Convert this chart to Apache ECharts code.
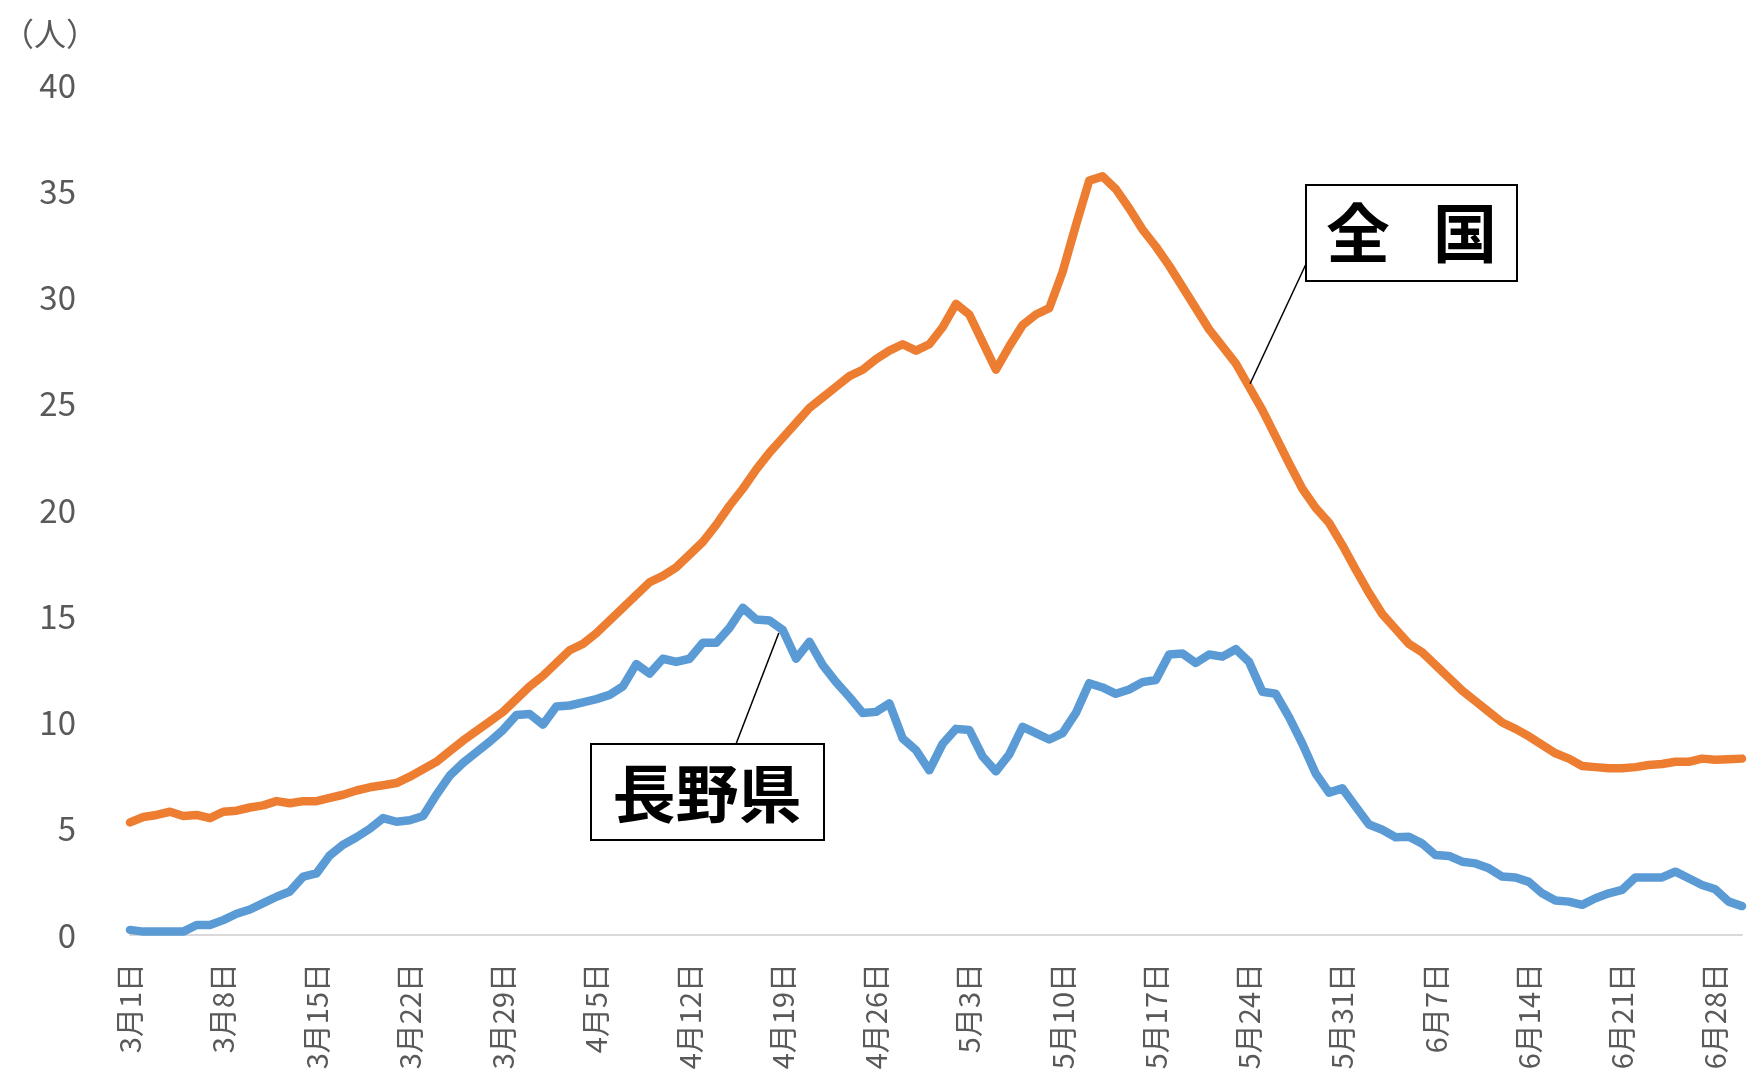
<!DOCTYPE html>
<html>
<head>
<meta charset="utf-8">
<script src="https://cdn.jsdelivr.net/npm/echarts@6/dist/echarts.min.js"></script>
<style>
html,body{margin:0;padding:0;background:#fff;}
#chart{width:1749px;height:1081px;}
</style>
</head>
<body>
<div id="chart"></div>
<script>
// Month / day-count info used to build the daily category labels (3/1 .. 6/30)
const months = [3, 4, 5, 6];
const monthDays = [31, 30, 31, 30];
const categories = [];
months.forEach((m, i) => { for (let d = 1; d <= monthDays[i]; d++) categories.push(m + '月' + d + '日'); });

// 全国 (national)
const national = [
  5.3, 5.55, 5.65, 5.8, 5.6, 5.65, 5.5, 5.8, 5.85, 6.0,
  6.1, 6.3, 6.2, 6.3, 6.3, 6.45, 6.6, 6.8, 6.95, 7.05,
  7.15, 7.45, 7.8, 8.15, 8.65, 9.15, 9.6, 10.05, 10.5, 11.1,
  11.7, 12.2, 12.8, 13.4, 13.7, 14.2, 14.8, 15.4, 16.0, 16.6,
  16.9, 17.3, 17.9, 18.5, 19.3, 20.2, 21.0, 21.9, 22.7, 23.4,
  24.1, 24.8, 25.3, 25.8, 26.3, 26.6, 27.1, 27.5, 27.8, 27.5,
  27.8, 28.6, 29.7, 29.2, 27.9, 26.6, 27.7, 28.7, 29.2, 29.5,
  31.2, 33.4, 35.5, 35.7, 35.1, 34.2, 33.2, 32.4, 31.5, 30.5,
  29.5, 28.5, 27.7, 26.9, 25.8, 24.7, 23.45, 22.2, 21.0, 20.1,
  19.4, 18.35, 17.2, 16.1, 15.1, 14.4, 13.7, 13.3, 12.7, 12.1,
  11.5, 11.0, 10.5, 10.0, 9.7, 9.35, 8.95, 8.55, 8.3, 7.95,
  7.9, 7.85, 7.85, 7.9, 8.0, 8.05, 8.15, 8.15, 8.3, 8.25,
  8.27, 8.3
];

// 長野県 (Nagano)
const nagano = [
  0.24, 0.16, 0.16, 0.16, 0.16, 0.47, 0.47, 0.7, 1.0, 1.2,
  1.5, 1.8, 2.05, 2.75, 2.9, 3.75, 4.25, 4.6, 5.0, 5.5,
  5.33, 5.4, 5.6, 6.6, 7.5, 8.1, 8.6, 9.1, 9.65, 10.35,
  10.4, 9.9, 10.75, 10.8, 10.95, 11.1, 11.3, 11.7, 12.75, 12.3,
  13.0, 12.85, 13.0, 13.75, 13.75, 14.45, 15.4, 14.85, 14.8, 14.35,
  13.0, 13.8, 12.7, 11.9, 11.2, 10.45, 10.5, 10.9, 9.25, 8.7,
  7.75, 9.0, 9.7, 9.65, 8.4, 7.7, 8.5, 9.8, 9.5, 9.2,
  9.5, 10.45, 11.85, 11.65, 11.35, 11.55, 11.9, 12.0, 13.2, 13.25,
  12.8, 13.2, 13.1, 13.45, 12.85, 11.45, 11.35, 10.25, 9.0, 7.6,
  6.7, 6.9, 6.05, 5.2, 4.95, 4.6, 4.62, 4.3, 3.76, 3.72,
  3.45, 3.37, 3.14, 2.75, 2.71, 2.5, 1.96, 1.62, 1.57, 1.42,
  1.73, 1.96, 2.12, 2.71, 2.71, 2.71, 2.98, 2.67, 2.35, 2.15,
  1.57, 1.36
];

const yTicks = { min: 0, max: 40, interval: 5 };
const unitLabel = '（人）';
const nationalLabel = ['全', '国'];
const naganoLabel = '長野県';
const nationalCalloutIndex = 84; // 5月24日
const naganoCalloutIndex = 49;   // 4月19日

const FONT = '"Noto Sans CJK JP", "Noto Sans", sans-serif';
const chart = echarts.init(document.getElementById('chart'), null, { renderer: 'canvas' });

chart.setOption({
  animation: false,
  backgroundColor: '#ffffff',
  grid: { left: 130, right: 7, top: 85, bottom: 146, containLabel: false },
  xAxis: {
    type: 'category',
    data: categories,
    boundaryGap: false,
    axisLine: { show: true, lineStyle: { color: '#d9d9d9', width: 2 } },
    axisTick: { show: false },
    axisLabel: {
      interval: 6, rotate: 90, margin: 28,
      color: '#595959', fontSize: 29, fontFamily: FONT
    },
    splitLine: { show: false }
  },
  yAxis: {
    type: 'value',
    min: yTicks.min, max: yTicks.max, interval: yTicks.interval,
    axisLine: { show: false },
    axisTick: { show: false },
    splitLine: { show: false },
    axisLabel: { color: '#595959', fontSize: 33, fontFamily: FONT, margin: 54 }
  },
  series: [
    {
      name: '全国', type: 'line', data: national, showSymbol: false, symbol: 'none',
      lineStyle: { color: '#ED7D31', width: 8.5, cap: 'round', join: 'round' }, z: 3
    },
    {
      name: '長野県', type: 'line', data: nagano, showSymbol: false, symbol: 'none',
      lineStyle: { color: '#5B9BD5', width: 8.5, cap: 'round', join: 'round' }, z: 4
    }
  ]
});

const pN = chart.convertToPixel({ xAxisIndex: 0, yAxisIndex: 0 }, [nationalCalloutIndex, national[nationalCalloutIndex]]);
const pG = chart.convertToPixel({ xAxisIndex: 0, yAxisIndex: 0 }, [naganoCalloutIndex, nagano[naganoCalloutIndex]]);

chart.setOption({
  graphic: [
    { type: 'text', x: 2, y: 34, z: 100,
      style: { text: unitLabel, fill: '#595959', font: '32px ' + FONT, textAlign: 'left', textVerticalAlign: 'middle' } },
    // national callout
    { type: 'line', z: 90, shape: { x1: 1306, y1: 264, x2: pN[0] + 1, y2: pN[1] - 3 },
      style: { stroke: '#000', lineWidth: 1.5 } },
    { type: 'rect', z: 100, shape: { x: 1306, y: 185, width: 211, height: 96 },
      style: { fill: '#fff', stroke: '#000', lineWidth: 2 } },
    { type: 'text', z: 101, x: 1358, y: 233,
      style: { text: nationalLabel[0], fill: '#000', font: 'bold 64px ' + FONT, textAlign: 'center', textVerticalAlign: 'middle' } },
    { type: 'text', z: 101, x: 1465, y: 233,
      style: { text: nationalLabel[1], fill: '#000', font: 'bold 64px ' + FONT, textAlign: 'center', textVerticalAlign: 'middle' } },
    // nagano callout
    { type: 'line', z: 90, shape: { x1: 736, y1: 744, x2: pG[0] - 4, y2: pG[1] + 3 },
      style: { stroke: '#000', lineWidth: 1.5 } },
    { type: 'rect', z: 100, shape: { x: 591, y: 744, width: 233, height: 96 },
      style: { fill: '#fff', stroke: '#000', lineWidth: 2 } },
    { type: 'text', z: 101, x: 707, y: 793,
      style: { text: naganoLabel, fill: '#000', font: 'bold 63px ' + FONT, textAlign: 'center', textVerticalAlign: 'middle' } }
  ]
});
</script>
</body>
</html>
